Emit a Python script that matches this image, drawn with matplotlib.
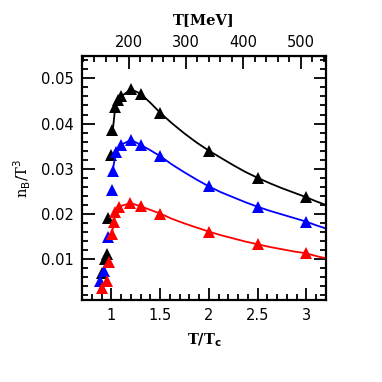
import matplotlib
matplotlib.use("Agg")
import matplotlib.pyplot as plt
from matplotlib.ticker import MultipleLocator

# T_c in MeV used for the top axis
Tc = 170.0

# lattice points (T/Tc, n_B/T^3)
black_x = [0.90, 0.93, 0.95, 0.97, 1.00, 1.01, 1.04, 1.07, 1.10, 1.20, 1.30, 1.50, 2.00, 2.50, 3.00]
black_y = [0.0070, 0.0100, 0.0111, 0.0192, 0.0331, 0.0386, 0.0437, 0.0452, 0.0460, 0.0476, 0.0466, 0.0424, 0.0340, 0.0280, 0.0238]

blue_x = [0.88, 0.92, 0.97, 1.01, 1.02, 1.05, 1.10, 1.20, 1.30, 1.50, 2.00, 2.50, 3.00]
blue_y = [0.0052, 0.0074, 0.0148, 0.0253, 0.0295, 0.0337, 0.0353, 0.0364, 0.0353, 0.0328, 0.0261, 0.0216, 0.0183]

red_x = [0.90, 0.95, 0.98, 1.01, 1.03, 1.04, 1.08, 1.19, 1.30, 1.50, 2.00, 2.50, 3.00]
red_y = [0.0037, 0.0052, 0.0093, 0.0155, 0.0182, 0.0204, 0.0216, 0.0224, 0.0217, 0.0201, 0.0161, 0.0133, 0.0113]

# curves
curve_x = [1.01, 1.04, 1.07, 1.10, 1.20, 1.30, 1.40, 1.50, 1.625, 1.75, 1.875, 2.00,
           2.125, 2.25, 2.375, 2.50, 2.625, 2.75, 2.875, 3.00, 3.10, 3.20]
black_curve = [0.0376, 0.0437, 0.0452, 0.0460, 0.0476, 0.0466, 0.0446, 0.0424, 0.0400, 0.0378, 0.0358, 0.0340,
               0.0324, 0.0308, 0.0293, 0.0280, 0.0268, 0.0257, 0.0247, 0.0237, 0.0228, 0.0220]
blue_curve = [0.0290, 0.0330, 0.0347, 0.0353, 0.0364, 0.0353, 0.0341, 0.0328, 0.0309, 0.0292, 0.0276, 0.0261,
              0.0248, 0.0237, 0.0226, 0.0216, 0.0207, 0.0199, 0.0191, 0.0183, 0.0175, 0.0168]
red_curve = [0.0162, 0.0200, 0.0212, 0.0218, 0.0224, 0.0217, 0.0209, 0.0201, 0.0189, 0.0179, 0.0170, 0.0161,
             0.0153, 0.0146, 0.0139, 0.0133, 0.0127, 0.0122, 0.0117, 0.0113, 0.0107, 0.0102]

fig = plt.figure(figsize=(3.82, 3.82), dpi=100)
ax = fig.add_axes([0.215, 0.215, 0.638, 0.639])

for cx, cy, px, py, c in [(curve_x, black_curve, black_x, black_y, "black"),
                          (curve_x, blue_curve, blue_x, blue_y, "blue"),
                          (curve_x, red_curve, red_x, red_y, "red")]:
    ax.plot(cx, cy, color=c, lw=1.3)
    ax.plot(px, py, "^", color=c, ms=8, mew=0)

ax.set_xlim(0.7, 3.2)
ax.set_ylim(0.001, 0.055)

ax.xaxis.set_major_locator(MultipleLocator(0.5))
ax.xaxis.set_minor_locator(MultipleLocator(0.1))
ax.yaxis.set_major_locator(MultipleLocator(0.01))
ax.yaxis.set_minor_locator(MultipleLocator(0.002))
ax.set_xticks([1, 1.5, 2, 2.5, 3])
ax.set_xticklabels(["1", "1.5", "2", "2.5", "3"])
ax.set_yticks([0.01, 0.02, 0.03, 0.04, 0.05])
ax.set_yticklabels(["0.01", "0.02", "0.03", "0.04", "0.05"])

ax.tick_params(which="both", direction="in", bottom=True, left=True, right=True, top=False,
               width=1.3, labelsize=10.5, pad=6)
ax.tick_params(which="major", length=9)
ax.tick_params(which="minor", length=4.5)
for s in ax.spines.values():
    s.set_linewidth(1.6)

top = ax.secondary_xaxis("top", functions=(lambda t: t * Tc, lambda m: m / Tc))
top.xaxis.set_major_locator(MultipleLocator(100))
top.xaxis.set_minor_locator(MultipleLocator(20))
top.set_xticks([200, 300, 400, 500])
top.set_xticklabels(["200", "300", "400", "500"])
top.tick_params(which="both", direction="in", width=1.3, labelsize=10.5, pad=4)
top.tick_params(which="major", length=9)
top.tick_params(which="minor", length=4.5)
top.set_xlabel("T[MeV]", family="DejaVu Serif", fontweight="bold", fontsize=10.5, labelpad=8)

ax.set_xlabel(r"T/T$_\mathbf{c}$", family="DejaVu Serif", fontweight="bold", fontsize=10.5, labelpad=6)
ax.set_ylabel(r"n$_\mathrm{B}$/T$^\mathrm{3}$", family="DejaVu Serif", fontsize=10.5, labelpad=6)

fig.savefig("out.png", dpi=100)
